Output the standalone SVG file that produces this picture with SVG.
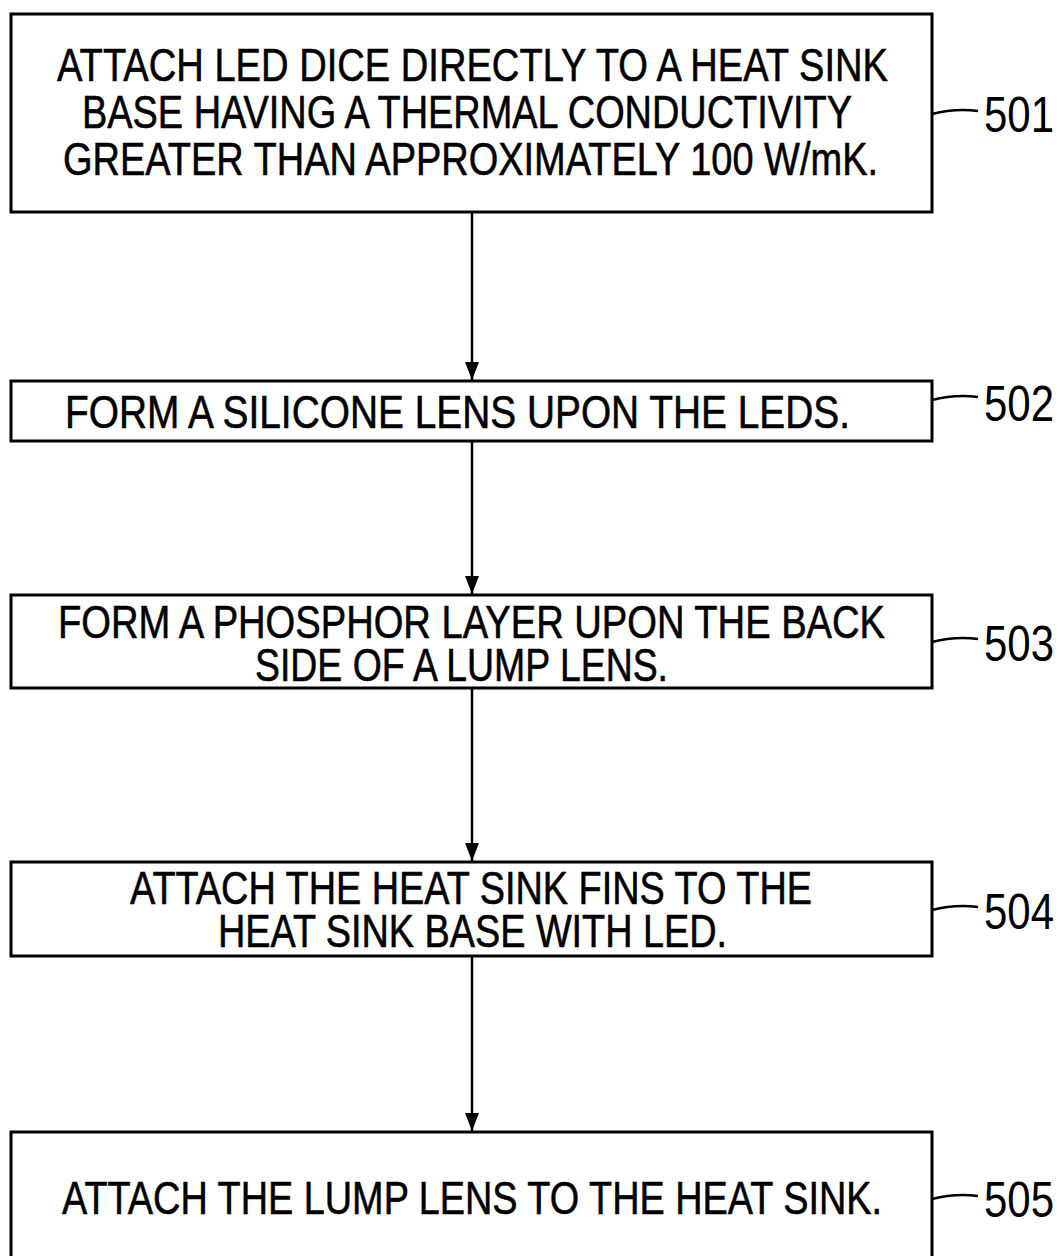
<svg xmlns="http://www.w3.org/2000/svg" width="1063" height="1256" viewBox="0 0 1063 1256">
<defs>
<style>
.box{fill:#fff;stroke:#000;stroke-width:3}
.t{font-family:"Liberation Sans",Arial,sans-serif;font-size:47px;fill:#000;stroke:#000;stroke-width:0.6}
.lbl{font-family:"Liberation Sans",Arial,sans-serif;font-size:50px;fill:#000}
.tick{fill:none;stroke:#000;stroke-width:2.5}
.conn{stroke:#000;stroke-width:2.5;fill:none}
</style>
<marker id="ah" viewBox="0 0 18 14" refX="18" refY="7" markerWidth="18" markerHeight="14" markerUnits="userSpaceOnUse" orient="auto">
<path d="M0,0 L18,7 L0,14 Z" fill="#000"/>
</marker>
</defs>
<rect width="1063" height="1256" fill="#fff"/>
<g id="connectors">
<line class="conn" x1="472" y1="212" x2="472" y2="380" marker-end="url(#ah)"/>
<line class="conn" x1="472" y1="441" x2="472" y2="594" marker-end="url(#ah)"/>
<line class="conn" x1="472" y1="688" x2="472" y2="861" marker-end="url(#ah)"/>
<line class="conn" x1="472" y1="956" x2="472" y2="1131" marker-end="url(#ah)"/>
</g>
<g id="n501">
<rect class="box" x="11" y="14" width="921" height="198"/>
<text class="t" x="57" y="81" textLength="831" lengthAdjust="spacingAndGlyphs">ATTACH LED DICE DIRECTLY TO A HEAT SINK</text>
<text class="t" x="82" y="128" textLength="770" lengthAdjust="spacingAndGlyphs">BASE HAVING A THERMAL CONDUCTIVITY</text>
<text class="t" x="63" y="175" textLength="815" lengthAdjust="spacingAndGlyphs">GREATER THAN APPROXIMATELY 100 W/mK.</text>
<path class="tick" d="M932,114 Q955,108 978,111"/>
<text class="lbl" transform="translate(984,132) scale(0.84,1)">501</text>
</g>
<g id="n502">
<rect class="box" x="11" y="381" width="921" height="60"/>
<text class="t" x="65" y="428" textLength="785" lengthAdjust="spacingAndGlyphs">FORM A SILICONE LENS UPON THE LEDS.</text>
<path class="tick" d="M932,400 Q955,394 978,397"/>
<text class="lbl" transform="translate(984,421) scale(0.84,1)">502</text>
</g>
<g id="n503">
<rect class="box" x="11" y="595" width="921" height="93"/>
<text class="t" x="58" y="638" textLength="827" lengthAdjust="spacingAndGlyphs">FORM A PHOSPHOR LAYER UPON THE BACK</text>
<text class="t" x="255" y="681" textLength="413" lengthAdjust="spacingAndGlyphs">SIDE OF A LUMP LENS.</text>
<path class="tick" d="M932,642 Q955,636 978,639"/>
<text class="lbl" transform="translate(984,661) scale(0.84,1)">503</text>
</g>
<g id="n504">
<rect class="box" x="11" y="862" width="921" height="94"/>
<text class="t" x="130" y="904" textLength="682" lengthAdjust="spacingAndGlyphs">ATTACH THE HEAT SINK FINS TO THE</text>
<text class="t" x="218" y="947" textLength="509" lengthAdjust="spacingAndGlyphs">HEAT SINK BASE WITH LED.</text>
<path class="tick" d="M932,910 Q955,904 978,907"/>
<text class="lbl" transform="translate(984,929) scale(0.84,1)">504</text>
</g>
<g id="n505">
<rect class="box" x="11" y="1132" width="921" height="140"/>
<text class="t" x="62" y="1214" textLength="820" lengthAdjust="spacingAndGlyphs">ATTACH THE LUMP LENS TO THE HEAT SINK.</text>
<path class="tick" d="M932,1199 Q955,1193 978,1196"/>
<text class="lbl" transform="translate(984,1217) scale(0.84,1)">505</text>
</g>
</svg>
